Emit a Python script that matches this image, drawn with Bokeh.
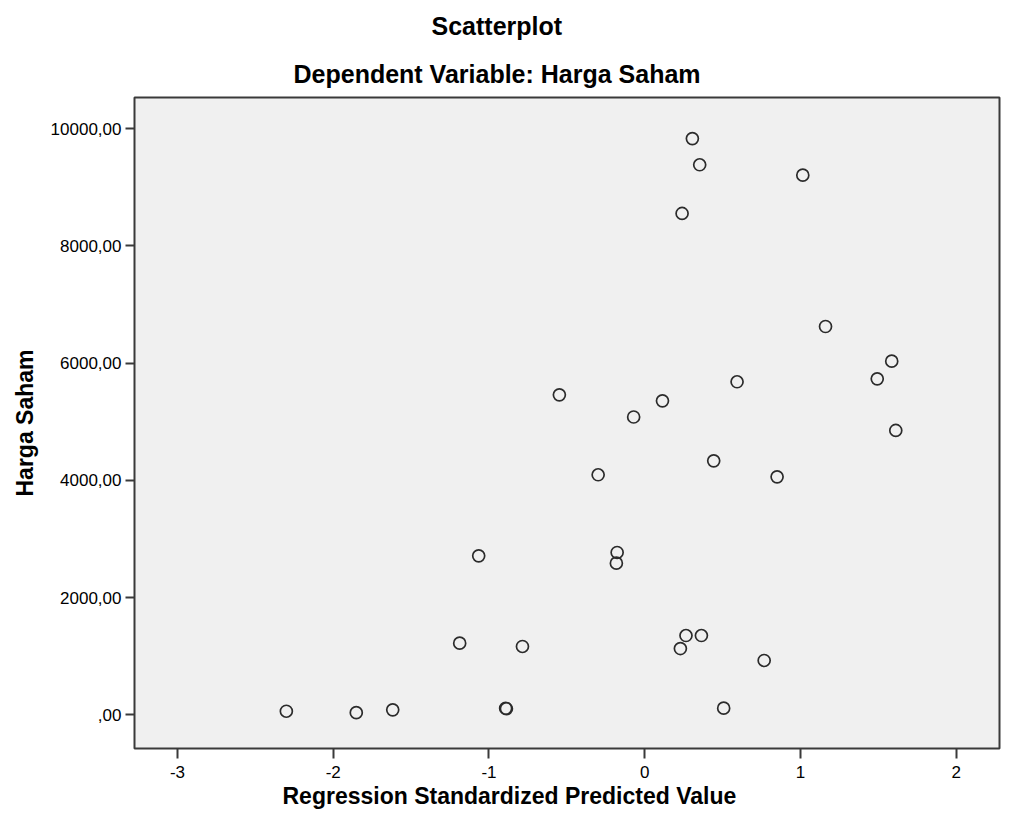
from bokeh.plotting import figure
from bokeh.models import Range1d, FixedTicker, Title, ColumnDataSource
from bokeh.embed import file_html
from bokeh.resources import INLINE

# Data
pred_value = [0.306, 0.353, 1.015, 0.240, 1.161, 1.586, 1.493, 0.593, -0.548, 0.114,
              -0.071, 1.612, 0.443, -0.299, 0.850, -1.066, -0.177, -0.182, -1.188, -0.785,
              0.265, 0.364, 0.229, 0.767, -2.301, -1.852, -1.618, -0.893, -0.888, 0.507]
harga_saham = [9833, 9386, 9208, 8555, 6626, 6034, 5734, 5683, 5461, 5358,
               5082, 4852, 4334, 4096, 4061, 2713, 2770, 2587, 1222, 1166,
               1353, 1353, 1131, 927, 61, 36, 85, 112, 104, 113]

x_ticks = [-3, -2, -1, 0, 1, 2]
x_tick_labels = ["-3", "-2", "-1", "0", "1", "2"]
y_ticks = [0, 2000, 4000, 6000, 8000, 10000]
y_tick_labels = [",00", "2000,00", "4000,00", "6000,00", "8000,00", "10000,00"]

title_main = "Scatterplot"
title_sub = "Dependent Variable: Harga Saham"
x_title = "Regression Standardized Predicted Value"
y_title = "Harga Saham"

FONT = "Liberation Sans"

p = figure(width=1010, height=822, output_backend="svg", toolbar_location=None,
           x_range=Range1d(-3.276, 2.278), y_range=Range1d(-575, 10534),
           min_border_left=134, min_border_right=11, min_border_top=97, min_border_bottom=74)
p.title.text = ""
p.background_fill_color = "#F0F0F0"
p.border_fill_color = "white"
p.outline_line_color = "#3a3a3a"
p.outline_line_width = 2
p.grid.visible = False

src = ColumnDataSource(dict(x=pred_value, y=harga_saham))
p.scatter("x", "y", source=src, size=12, marker="circle", fill_color=None,
          line_color="#2b2b2b", line_width=1.7)

p.xaxis.ticker = FixedTicker(ticks=x_ticks)
p.yaxis.ticker = FixedTicker(ticks=y_ticks)
p.xaxis.major_label_overrides = {t: l for t, l in zip(x_ticks, x_tick_labels)}
p.yaxis.major_label_overrides = {t: l for t, l in zip(y_ticks, y_tick_labels)}
for ax in (p.xaxis[0], p.yaxis[0]):
    ax.axis_line_color = None
    ax.major_tick_line_color = "#3a3a3a"
    ax.major_tick_line_width = 2
    ax.major_tick_in = 0
    ax.minor_tick_line_color = None
    ax.major_label_text_font = FONT
    ax.major_label_text_font_size = "17px"
    ax.major_label_text_color = "black"
p.xaxis.major_tick_out = 10
p.yaxis.major_tick_out = 9
p.xaxis.major_label_standoff = 7
p.yaxis.major_label_standoff = 4

p.yaxis.axis_label = y_title
p.yaxis.axis_label_text_font = FONT
p.yaxis.axis_label_text_font_style = "bold"
p.yaxis.axis_label_text_font_size = "23px"
p.yaxis.axis_label_text_color = "black"
p.yaxis.axis_label_standoff = 10

def make_title(text, size, offset, standoff):
    return Title(text=text, align="left", offset=offset, standoff=standoff,
                 text_font=FONT, text_font_style="bold", text_font_size=size,
                 text_color="black")

# sub title nearest to the frame, main title above it
p.add_layout(make_title(title_sub, "25px", 159, 20), "above")
p.add_layout(make_title(title_main, "25px", 297, 16), "above")
p.add_layout(make_title(x_title, "23px", 148, 0), "below")

open("out.html", "w").write(file_html(p, INLINE))
